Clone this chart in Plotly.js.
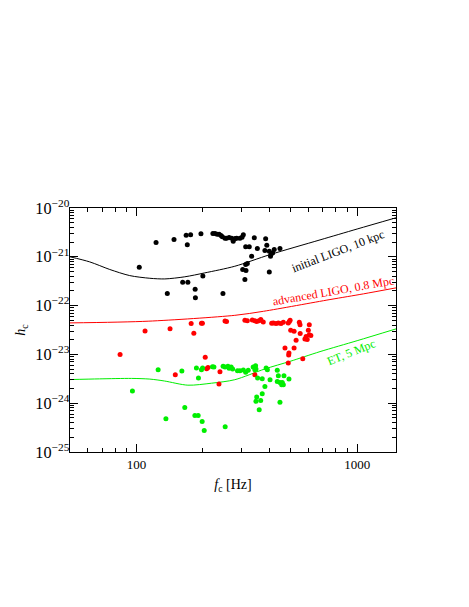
<!DOCTYPE html>
<html>
<head>
<meta charset="utf-8">
<script src="https://cdn.plot.ly/plotly-3.0.1.min.js"></script>
<style>html,body{margin:0;padding:0;background:#fff;}#plot{width:469px;height:607px;}</style>
</head>
<body>
<div id="plot"></div>
<script>
// ---- data ----
const blackF = [103,122.7,148,168,176,170,196,222,227,232,237,241.5,245,252,256,263,270,274.5,280,284.5,294.5,305,301,312.6,324.5,342,332.6,353,385,389.6,382,400,407,414,421,447,405,312.6,318,303,313.6,310,400,162,171,200,184.5,138,185,246.6];
const blackH = [6.11e-22,1.96e-21,2.26e-21,2.77e-21,2.82e-21,1.76e-21,2.96e-21,3.0e-21,3.0e-21,2.9e-21,2.9e-21,2.73e-21,2.57e-21,2.4e-21,2.4e-21,2.48e-21,2.4e-21,2.09e-21,2.37e-21,2.4e-21,2.4e-21,2.82e-21,2.51e-21,1.6e-21,1.6e-21,2.45e-21,1.03e-21,1.48e-21,2.33e-21,1.73e-21,1.34e-21,1.3e-21,1.11e-21,1.2e-21,1.41e-21,1.48e-21,1.03e-21,6.93e-22,7.28e-22,5.5e-22,5.22e-22,3.41e-22,4.9e-22,3.02e-22,3.02e-22,4.06e-22,2.16e-22,1.76e-22,1.44e-22,1.76e-22];

const redF = [84.3,109.4,142,177,182,197,199,150,205,208,211,239,236.6,252,256,310,318,335,344,350.6,359,366,375.6,410,417,429,439.5,452,463,487.5,497,493,547,551,607,500,518,552,601,607,587,594,580,617,529,518,471,491,489.5,487.5,567,344];
const redH = [1.0e-23,3.03e-23,3.37e-23,4.28e-23,2.7e-23,4.34e-23,4.34e-23,3.85e-24,8.7e-24,5.1e-24,5.37e-24,4.43e-24,2.48e-24,4.85e-23,4.7e-23,5.0e-23,4.92e-23,5.09e-23,4.92e-23,4.7e-23,4.92e-23,5.16e-23,4.63e-23,4.34e-23,4.42e-23,4.28e-23,4.42e-23,4.28e-23,4.55e-23,4.42e-23,5.0e-23,4.7e-23,4.55e-23,4.07e-23,4.07e-23,3.11e-23,2.97e-23,2.67e-23,3.11e-23,2.54e-23,2.34e-23,2.01e-23,2.07e-23,2.43e-23,1.94e-23,1.36e-23,1.36e-23,1.07e-23,9.75e-24,6.68e-24,8.18e-24,3.85e-24];

const greenF = [95.9,125.4,160.6,187,191,197,199.4,221,224.4,247,252,259.7,263,268.6,272.8,287,294.5,305,312.6,321,338,346.7,344,348,387,392,354,371.5,403,434.6,439.5,434.6,447,458,466,455,463,491,382,371.5,350.6,365.6,348,360,447,165.6,136,184,190.4,198.5,202.8,252.4];
const greenH = [1.78e-24,4.86e-24,4.57e-24,5.27e-24,3.29e-24,4.86e-24,5.27e-24,5.61e-24,5.52e-24,5.69e-24,5.52e-24,5.69e-24,5.18e-24,5.52e-24,5.04e-24,4.65e-24,4.65e-24,4.8e-24,4.29e-24,4.71e-24,5.53e-24,5.87e-24,4.86e-24,5.04e-24,5.27e-24,4.86e-24,3.29e-24,3.18e-24,3.03e-24,4.71e-24,3.66e-24,2.8e-24,2.67e-24,2.67e-24,3.66e-24,2.39e-24,2.39e-24,3.13e-24,2.21e-24,1.57e-24,1.34e-24,1.14e-24,1.09e-24,7.36e-25,1.04e-24,8.2e-25,4.81e-25,5.62e-25,5.62e-25,4.24e-25,2.77e-25,3.3e-25];

const ligoF = [50,61.4,75.7,93.2,115,134.4,165.6,204,279,403,679,1000,1500];
const ligoH = [1.0e-21,7.87e-22,5.5e-22,4.12e-22,3.63e-22,3.52e-22,3.89e-22,4.68e-22,6.4e-22,1.11e-21,2.22e-21,3.71e-21,6.3e-21];

const advF = [50,113,279,376,753,1068,1500];
const advH = [4.42e-23,4.79e-23,6.32e-23,7.64e-23,1.33e-22,1.74e-22,2.31e-22];

const etF = [50,68,95,115,134,171,219,279,382,497,679,1000,1500];
const etH = [3.05e-24,3.15e-24,3.22e-24,3.12e-24,2.85e-24,2.34e-24,2.57e-24,3.03e-24,5.04e-24,7.21e-24,1.14e-23,1.91e-23,3.33e-23];

const xTickVals = [100,1000];
const xTickText = ['100','1000'];
const xMinorVals = [60,70,80,90,200,300,400,500,600,700,800,900];
const curveLabels = ['initial LIGO, 10 kpc','advanced LIGO, 0.8 Mpc','ET, 5 Mpc'];

// ---- drawing ----
const BLK = '#000000', RED = '#ff0000', GRN = '#00ee00';
const serif = '"Liberation Serif", serif';

const traces = [
  {x: ligoF, y: ligoH, mode: 'lines', line: {color: BLK, width: 1, shape: 'spline', smoothing: 0.8}, hoverinfo: 'skip'},
  {x: advF, y: advH, mode: 'lines', line: {color: RED, width: 1, shape: 'spline', smoothing: 0.8}, hoverinfo: 'skip'},
  {x: etF, y: etH, mode: 'lines', line: {color: GRN, width: 1, shape: 'spline', smoothing: 0.8}, hoverinfo: 'skip'},
  {x: blackF, y: blackH, mode: 'markers', marker: {color: BLK, size: 5}},
  {x: redF, y: redH, mode: 'markers', marker: {color: RED, size: 5}},
  {x: greenF, y: greenH, mode: 'markers', marker: {color: GRN, size: 5}}
];

const axCommon = {
  type: 'log', showline: true, linecolor: BLK, linewidth: 1, mirror: 'allticks',
  ticks: 'inside', ticklen: 8, tickwidth: 1, tickcolor: BLK,
  showgrid: false, zeroline: false,
  tickfont: {family: serif, size: 13, color: BLK}
};

const layout = {
  width: 469, height: 607,
  margin: {l: 70, r: 73, t: 208, b: 155},
  paper_bgcolor: '#fff', plot_bgcolor: '#fff',
  showlegend: false,
  font: {family: serif, color: BLK},
  xaxis: Object.assign({}, axCommon, {
    range: [Math.log10(50), Math.log10(1500)],
    tickvals: xTickVals, ticktext: xTickText,
    minor: {tickvals: xMinorVals, ticks: 'inside', ticklen: 4, tickcolor: BLK, showgrid: false},
    title: {text: '<i>f</i><sub>c</sub> [Hz]', font: {family: serif, size: 14, color: BLK}, standoff: 8}
  }),
  yaxis: Object.assign({}, axCommon, {
    range: [-25, -20], dtick: 1, exponentformat: 'power', ticklabelstandoff: -3,
    minor: {dtick: 'D1', ticks: 'inside', ticklen: 4, tickcolor: BLK, showgrid: false},
    title: {text: '<i>h</i><sub>c</sub>', font: {family: serif, size: 14, color: BLK}, standoff: 6}
  }),
  annotations: [
    {text: curveLabels[0], x: 2.915, y: -20.886, xref: 'x', yref: 'y', showarrow: false, textangle: -21,
     font: {family: serif, size: 12, color: BLK}},
    {text: curveLabels[1], x: 2.892, y: -21.71, xref: 'x', yref: 'y', showarrow: false, textangle: -10,
     font: {family: serif, size: 12, color: RED}},
    {text: curveLabels[2], x: 2.976, y: -22.958, xref: 'x', yref: 'y', showarrow: false, textangle: -22,
     font: {family: serif, size: 12, color: GRN}}
  ]
};

Plotly.newPlot('plot', traces, layout, {displayModeBar: false, staticPlot: true});
</script>
</body>
</html>
